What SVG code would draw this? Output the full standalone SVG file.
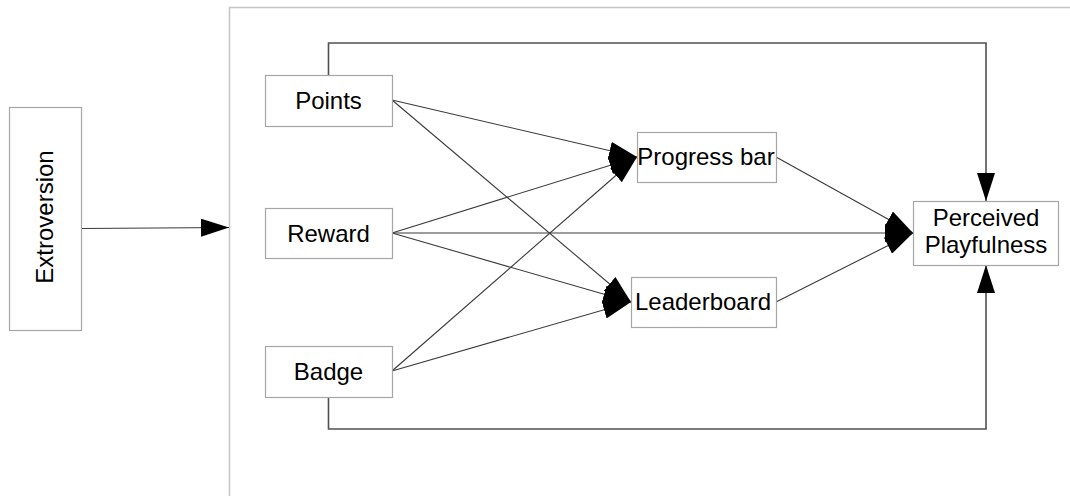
<svg xmlns="http://www.w3.org/2000/svg" width="1070" height="496" viewBox="0 0 1070 496">
  <style>
    .box { fill: #ffffff; stroke: #a6a6a6; stroke-width: 1.2; }
    .frame { fill: none; stroke: #c4c4c4; stroke-width: 1.5; }
    .label { font-family: "Liberation Sans", Arial, sans-serif; font-size: 24px; fill: #000000; text-anchor: middle; }
    .edge { fill: none; stroke: #3a3a3a; stroke-width: 1.1; }
    .loop { fill: none; stroke: #505050; stroke-width: 1.6; }
  </style>
  <defs>
    <marker id="arrow" markerUnits="userSpaceOnUse" markerWidth="28" markerHeight="18" refX="28" refY="9" orient="auto">
      <path d="M0,0 L28,9 L0,18 z" fill="#000000"/>
    </marker>
  </defs>

  <rect width="1070" height="496" fill="#ffffff"/>

  <!-- enclosing frame of the gamification model -->
  <rect class="frame" x="229.5" y="7.5" width="900" height="520"/>

  <g id="connectors">
    <!-- moderator arrow -->
    <path class="edge" d="M81,228.5 L229,227.5" marker-end="url(#arrow)"/>
    <!-- elements to progress bar -->
    <path class="edge" d="M392,100 L637,157" marker-end="url(#arrow)"/>
    <path class="edge" d="M392,233 L637,157" marker-end="url(#arrow)"/>
    <path class="edge" d="M392,371 L637,157" marker-end="url(#arrow)"/>
    <!-- elements to leaderboard -->
    <path class="edge" d="M392,100 L631,302" marker-end="url(#arrow)"/>
    <path class="edge" d="M392,233 L631,302" marker-end="url(#arrow)"/>
    <path class="edge" d="M392,371 L631,302" marker-end="url(#arrow)"/>
    <!-- into perceived playfulness -->
    <path class="edge" d="M392,233 L913,233" marker-end="url(#arrow)"/>
    <path class="edge" d="M776,157 L913,233" marker-end="url(#arrow)"/>
    <path class="edge" d="M776,302 L913,233" marker-end="url(#arrow)"/>
    <!-- direct paths around the outside -->
    <path class="loop" d="M328.5,75 V43 H986 V201" marker-end="url(#arrow)"/>
    <path class="loop" d="M328.5,397 V429 H986 V265" marker-end="url(#arrow)"/>
  </g>

  <g id="extroversion">
    <rect class="box" x="9.5" y="107.5" width="72" height="223"/>
    <text class="label" transform="translate(53,217) rotate(-90)" x="0" y="0">Extroversion</text>
  </g>

  <g id="points">
    <rect class="box" x="265.5" y="75.5" width="127" height="51"/>
    <text class="label" x="328.5" y="108.5">Points</text>
  </g>

  <g id="reward">
    <rect class="box" x="265.5" y="208.5" width="127" height="50"/>
    <text class="label" x="328.5" y="242">Reward</text>
  </g>

  <g id="badge">
    <rect class="box" x="265.5" y="346.5" width="127" height="51"/>
    <text class="label" x="328.5" y="379.5">Badge</text>
  </g>

  <g id="progress-bar">
    <rect class="box" x="637.5" y="132.5" width="139" height="50"/>
    <text class="label" x="706" y="165">Progress bar</text>
  </g>

  <g id="leaderboard">
    <rect class="box" x="631.5" y="277.5" width="145" height="50"/>
    <text class="label" x="703" y="310">Leaderboard</text>
  </g>

  <g id="perceived-playfulness">
    <rect class="box" x="913.5" y="201.5" width="145" height="64"/>
    <text class="label" x="986" y="226">Perceived</text>
    <text class="label" x="986" y="253">Playfulness</text>
  </g>
</svg>
